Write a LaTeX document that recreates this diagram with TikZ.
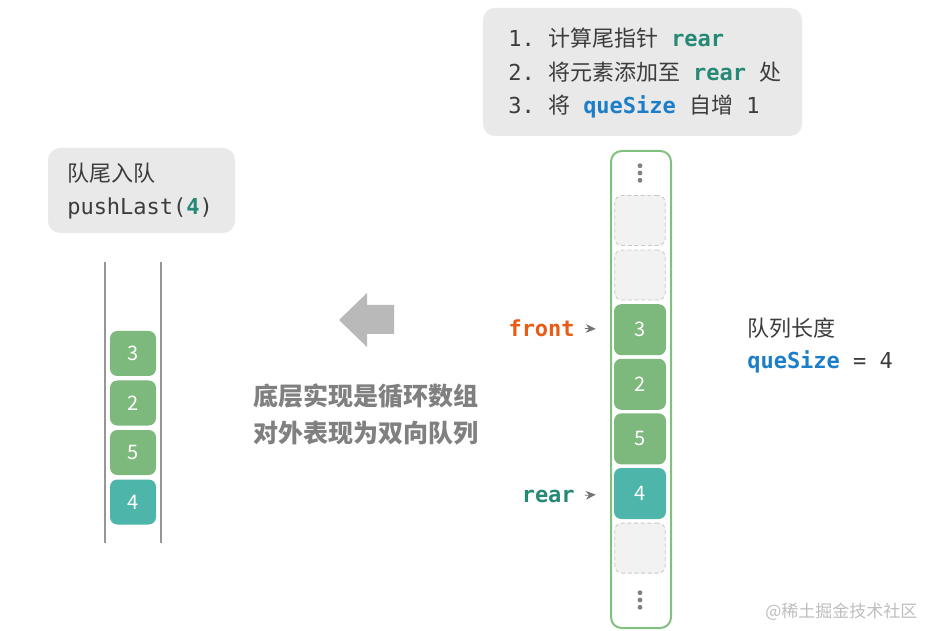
\documentclass[tikz,border=0pt]{standalone}
\usepackage{fontspec}
\setmainfont{Noto Sans CJK SC}
\newfontfamily\code{DejaVu Sans Mono}
\usepackage{tikz}
\usetikzlibrary{arrows.meta}
\definecolor{ink}{RGB}{60, 60, 60}
\definecolor{panel}{RGB}{233, 233, 233}
\definecolor{val}{RGB}{125, 184, 124}
\definecolor{last}{RGB}{78, 181, 171}
\definecolor{frame}{RGB}{130, 192, 128}
\definecolor{hole}{RGB}{242, 242, 242}
\definecolor{holeedge}{RGB}{200, 200, 200}
\definecolor{rearc}{RGB}{38, 137, 117}
\definecolor{frontc}{RGB}{232, 92, 22}
\definecolor{sizec}{RGB}{28, 126, 200}
\definecolor{note}{RGB}{128, 128, 128}
\definecolor{rail}{RGB}{150, 150, 150}
\definecolor{mark}{RGB}{190, 190, 190}
\definecolor{bigarrow}{RGB}{185, 185, 185}

\begin{document}
\begin{tikzpicture}[x=0.75pt, y=-0.75pt,
    txt/.style={inner sep=0pt, text=ink, font=\fontsize{16.5}{20}\selectfont},
    valbox/.style={text=white, font=\fontsize{15}{17}\selectfont, fill=val,
                   rounded corners=5.5pt, minimum width=39pt, minimum height=38.25pt},
    lastbox/.style={valbox, fill=last},
    holebox/.style={fill=hole, draw=holeedge, dash pattern=on 3pt off 2pt, line width=0.6pt,
                    rounded corners=5.5pt, minimum width=38pt, minimum height=37.5pt},
    smallval/.style={valbox, minimum width=34.5pt, minimum height=33.75pt},
    smalllast/.style={smallval, fill=last},
    ptr/.style={-{Stealth[length=7.5pt, width=6.5pt, inset=2.5pt]}, draw=note!90!black, line width=0.6pt,
                shorten <=7.5pt, shorten >=13.5pt}]
  \fill[white] (0, 0) rectangle (933, 631);
  \useasboundingbox (0, 0) rectangle (933, 631);

  % steps of the operation
  \fill[panel, rounded corners=9pt] (483, 8) rectangle (802, 136);
  \node[txt, anchor=west] (step1) at (508, 38) { {\code 1.~}计算尾指针{\code~\textbf{\color{rearc}rear}} };
  \node[txt, anchor=west] (step2) at (508, 72) { {\code 2.~}将元素添加至{\code~\textbf{\color{rearc}rear}~}处 };
  \node[txt, anchor=west] (step3) at (508, 107) { {\code 3.~}将{\code~\textbf{\color{sizec}queSize}~}自增{\code~1} };

  % deque seen from outside
  \fill[panel, rounded corners=9pt] (48, 148) rectangle (235, 233);
  \node[txt, anchor=west] (title) at (67, 173) { 队尾入队 };
  \node[txt, anchor=west] (call) at (67, 208) { {\code pushLast(\textbf{\color{rearc}4})} };

  \draw[rail, line width=1.1pt] (105, 262) -- (105, 543);
  \draw[rail, line width=1.1pt] (161, 262) -- (161, 543);
  \foreach [count=\i] \v/\s in {3/smallval, 2/smallval, 5/smallval, 4/smalllast} {
    \pgfmathsetmacro{\y}{353.5 + 49.5 * (\i - 1)};
    \node[\s] (l\i) at (133, \y) { \v };
  }

  \fill[bigarrow] (339, 320) -- (367, 293) -- (367, 305) -- (394, 305) -- (394, 334)
                  -- (367, 334) -- (367, 347) -- cycle;
  \node[txt, text=note, align=center, font=\bfseries\fontsize{18.75}{27.75}\selectfont]
    (note) at (366, 414.5) { 底层实现是循环数组\\对外表现为双向队列 };

  % circular array underneath
  \draw[frame, line width=1.5pt, rounded corners=8pt, fill=white] (611, 151) rectangle (671, 628);
  \foreach \d in {-7.3, 0, 7.3} {
    \fill[note] (640, 173 + \d) circle (1.8pt);
    \fill[note] (640, 600 + \d) circle (1.8pt);
  }
  \foreach [count=\i] \v/\s in {/holebox, /holebox, 3/valbox, 2/valbox, 5/valbox, 4/lastbox, /holebox} {
    \pgfmathsetmacro{\y}{220.5 + 54.6 * (\i - 1)};
    \node[\s] (r\i) at (640, \y) { \v };
  }

  \node[txt, anchor=east, text=frontc] (front) at (575, 328) { \code\bfseries front };
  \node[txt, anchor=east, text=rearc] (rear) at (575, 496) { \code\bfseries rear };
  \draw[ptr] (front.east) -- (r3.west);
  \draw[ptr] (rear.east) -- (r6.west);

  \node[txt, anchor=west] (len) at (747, 328) { 队列长度 };
  \node[txt, anchor=west] (size) at (747, 362) { {\code\textbf{\color{sizec}queSize}~=~4} };

  \node[txt, anchor=west, text=mark, font=\fontsize{12.75}{14}\selectfont] (wm) at (765, 612) { @稀土掘金技术社区 };
\end{tikzpicture}
\end{document}
